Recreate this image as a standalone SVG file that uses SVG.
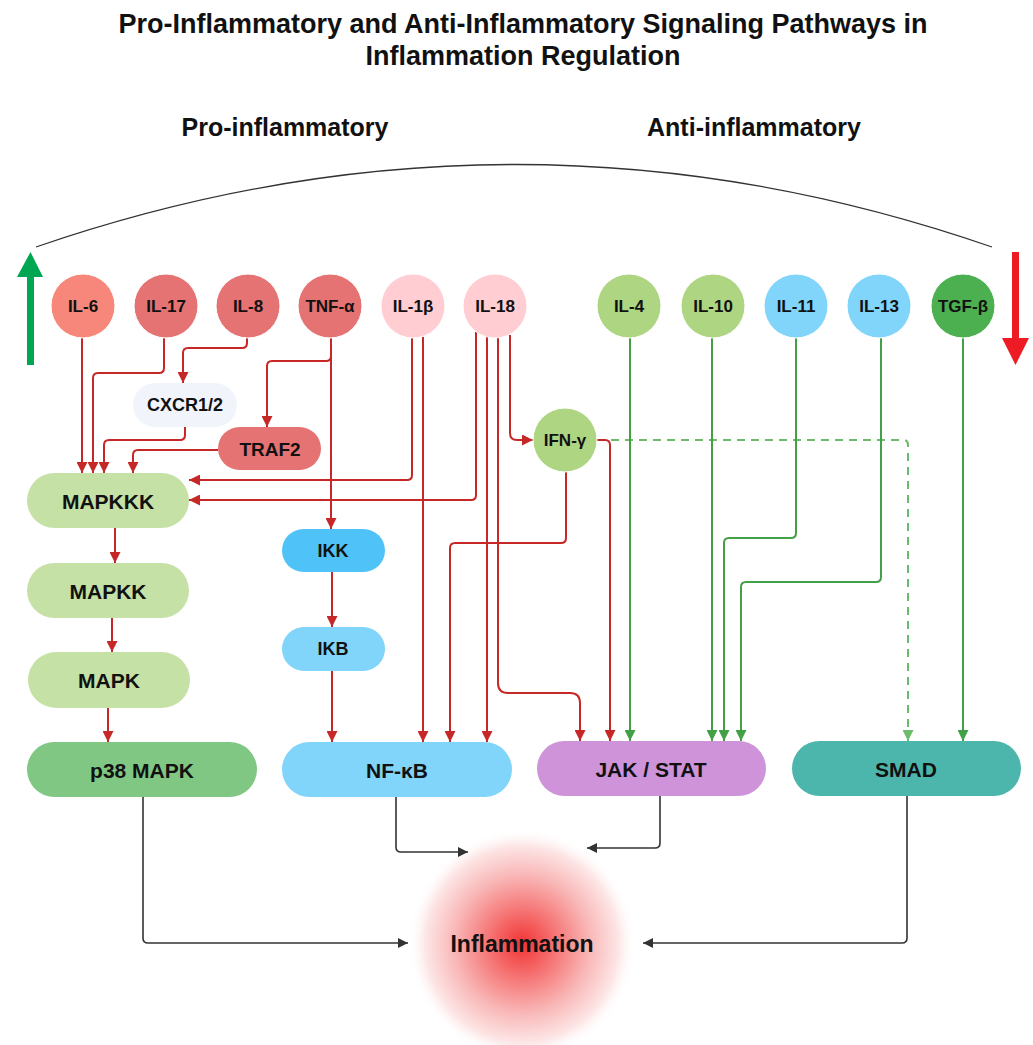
<svg xmlns="http://www.w3.org/2000/svg" width="1033" height="1045" viewBox="0 0 1033 1045">
<style>
text{font-family:"Liberation Sans",Arial,sans-serif;font-weight:bold;fill:#111}
.n{text-anchor:middle;dominant-baseline:central}
.c{stroke:#fff;stroke-width:1}
.r{fill:none;stroke:#C62828;stroke-width:2;marker-end:url(#ar)}
.g{fill:none;stroke:#43A047;stroke-width:2;marker-end:url(#ag)}
.d{fill:none;stroke:#6DBB6D;stroke-width:2;stroke-dasharray:8 6;marker-end:url(#ad)}
.k{fill:none;stroke:#333;stroke-width:1.6;marker-end:url(#ak)}
</style>
<defs>
<marker id="ar" viewBox="0 0 10 10" refX="10" refY="5" markerWidth="11" markerHeight="11" markerUnits="userSpaceOnUse" orient="auto"><path d="M0,0L10,5L0,10z" fill="#C62828"/></marker>
<marker id="ag" viewBox="0 0 10 10" refX="10" refY="5" markerWidth="11" markerHeight="11" markerUnits="userSpaceOnUse" orient="auto"><path d="M0,0L10,5L0,10z" fill="#43A047"/></marker>
<marker id="ad" viewBox="0 0 10 10" refX="10" refY="5" markerWidth="11" markerHeight="11" markerUnits="userSpaceOnUse" orient="auto"><path d="M0,0L10,5L0,10z" fill="#6DBB6D"/></marker>
<marker id="ak" viewBox="0 0 10 10" refX="10" refY="5" markerWidth="10" markerHeight="10" markerUnits="userSpaceOnUse" orient="auto"><path d="M0,0L10,5L0,10z" fill="#333"/></marker>
<radialGradient id="glow" cx="0.5" cy="0.5" r="0.5">
<stop offset="0" stop-color="#F23333"/>
<stop offset="0.25" stop-color="#F56B6B"/>
<stop offset="0.6" stop-color="#F9B8B8"/>
<stop offset="0.85" stop-color="#FDE6E6"/>
<stop offset="1" stop-color="#FFFFFF" stop-opacity="0"/>
</radialGradient>
</defs>
<rect width="1033" height="1045" fill="#fff"/>

<g id="title">
<text x="523" y="33" font-size="27" text-anchor="middle">Pro-Inflammatory and Anti-Inflammatory Signaling Pathways in</text>
<text x="523" y="65" font-size="27" text-anchor="middle">Inflammation Regulation</text>
</g>
<g id="headings">
<text x="285" y="136" font-size="25" text-anchor="middle">Pro-inflammatory</text>
<text x="754" y="136" font-size="25" text-anchor="middle">Anti-inflammatory</text>
</g>
<path id="arc" d="M36,247 Q516,82 992,247" fill="none" stroke="#333" stroke-width="1.3"/>
<polygon id="up-arrow" points="27,365 34,365 34,277 43,277 30.5,252 17,277 27,277" fill="#00A651"/>
<polygon id="down-arrow" points="1012,252 1019,252 1019,338 1029,338 1015.5,365 1002,338 1012,338" fill="#ED1C24"/>

<g id="inflammation">
<ellipse cx="522" cy="944" rx="114" ry="116" fill="url(#glow)"/>
<text class="n" x="522" y="944" font-size="23">Inflammation</text>
</g>

<g id="connectors">
<path class="r" d="M82,338 V473"/>
<path class="r" d="M164,338 V368 Q164,373 159,373 H98 Q93,373 93,378 V473"/>
<path class="r" d="M247,337 V343 Q247,348 242,348 H188 Q183,348 183,353 V383"/>
<path class="r" d="M185,427 V435 Q185,440 180,440 H109 Q104,440 104,445 V473"/>
<path class="r" d="M218,450 H138 Q133,450 133,455 V473"/>
<path class="r" d="M331,338 V529"/>
<path class="r" d="M331,338 V356 Q331,361 326,361 H272 Q267,361 267,366 V427"/>
<path class="r" d="M412,338 V475 Q412,480 407,480 H189"/>
<path class="r" d="M423,337 V742"/>
<path class="r" d="M476,332 V495 Q476,500 471,500 H189"/>
<path class="r" d="M487,336 V742"/>
<path class="r" d="M498,337 V683 Q498,693 508,693 H570 Q580,693 580,703 V741"/>
<path class="r" d="M510,335 V433 Q510,440 517,440 H533"/>
<path class="r" d="M566,472 V538 Q566,543 561,543 H455 Q450,543 450,548 V742"/>
<path class="d" d="M597,440 H903 Q908,440 908,445 V741"/>
<path class="r" d="M597,440 H605 Q610,440 610,445 V741"/>
<path class="g" d="M630,338 V741"/>
<path class="g" d="M712,338 V741"/>
<path class="g" d="M796,338 V533 Q796,538 791,538 H729 Q724,538 724,543 V741"/>
<path class="g" d="M881,338 V577 Q881,582 876,582 H746 Q741,582 741,587 V741"/>
<path class="g" d="M963,338 V741"/>
<path class="r" d="M115,528 V563"/>
<path class="r" d="M112,618 V652"/>
<path class="r" d="M108,708 V742"/>
<path class="r" d="M332,572 V627"/>
<path class="r" d="M332,671 V742"/>
<path class="k" d="M143,797 V938 Q143,943 148,943 H408"/>
<path class="k" d="M396,797 V847 Q396,852 401,852 H468"/>
<path class="k" d="M660,796 V843 Q660,848 655,848 H587"/>
<path class="k" d="M907,796 V938 Q907,943 902,943 H643"/>
</g>

<g id="IL-6"><circle class="c" cx="83" cy="306" r="32" fill="#F6877A"/><text class="n" x="83" y="306" font-size="17">IL-6</text></g>
<g id="IL-17"><circle class="c" cx="166" cy="306" r="32" fill="#E57373"/><text class="n" x="166" y="306" font-size="17">IL-17</text></g>
<g id="IL-8"><circle class="c" cx="248" cy="306" r="32" fill="#E57373"/><text class="n" x="248" y="306" font-size="17">IL-8</text></g>
<g id="TNF-a"><circle class="c" cx="330" cy="306" r="32" fill="#E57373"/><text class="n" x="330" y="306" font-size="17">TNF-α</text></g>
<g id="IL-1b"><circle class="c" cx="413" cy="306" r="32" fill="#FFCDD2"/><text class="n" x="413" y="306" font-size="17">IL-1β</text></g>
<g id="IL-18"><circle class="c" cx="495" cy="306" r="32" fill="#FFCDD2"/><text class="n" x="495" y="306" font-size="17">IL-18</text></g>
<g id="IL-4"><circle class="c" cx="629" cy="306" r="32" fill="#AED581"/><text class="n" x="629" y="306" font-size="17">IL-4</text></g>
<g id="IL-10"><circle class="c" cx="713" cy="306" r="32" fill="#AED581"/><text class="n" x="713" y="306" font-size="17">IL-10</text></g>
<g id="IL-11"><circle class="c" cx="796" cy="306" r="32" fill="#81D4FA"/><text class="n" x="796" y="306" font-size="17">IL-11</text></g>
<g id="IL-13"><circle class="c" cx="879" cy="306" r="32" fill="#81D4FA"/><text class="n" x="879" y="306" font-size="17">IL-13</text></g>
<g id="TGF-b"><circle class="c" cx="963" cy="306" r="32" fill="#4CAF50"/><text class="n" x="963" y="306" font-size="17">TGF-β</text></g>
<g id="IFN-g"><circle class="c" cx="565" cy="440" r="32" fill="#AED581"/><text class="n" x="565" y="440" font-size="17">IFN-γ</text></g>

<g id="CXCR1-2"><rect x="133" y="383" width="104" height="44" rx="22" fill="#F1F5FB"/><text class="n" x="185" y="405" font-size="18">CXCR1/2</text></g>
<g id="TRAF2"><rect x="218" y="427" width="103" height="43" rx="21.5" fill="#E57373"/><text class="n" x="270" y="449" font-size="19">TRAF2</text></g>
<g id="MAPKKK"><rect x="27" y="473" width="162" height="55" rx="27.5" fill="#C5E1A5"/><text class="n" x="108" y="501" font-size="21">MAPKKK</text></g>
<g id="MAPKK"><rect x="27" y="563" width="162" height="55" rx="27.5" fill="#C5E1A5"/><text class="n" x="108" y="591" font-size="21">MAPKK</text></g>
<g id="MAPK"><rect x="28" y="652" width="162" height="56" rx="28" fill="#C5E1A5"/><text class="n" x="109" y="680" font-size="21">MAPK</text></g>
<g id="p38-MAPK"><rect x="27" y="742" width="230" height="55" rx="27.5" fill="#81C784"/><text class="n" x="142" y="770" font-size="21">p38 MAPK</text></g>
<g id="IKK"><rect x="282" y="529" width="103" height="43" rx="21.5" fill="#4FC3F7"/><text class="n" x="333" y="551" font-size="18">IKK</text></g>
<g id="IKB"><rect x="282" y="627" width="103" height="44" rx="22" fill="#81D4FA"/><text class="n" x="333" y="649" font-size="18">IKB</text></g>
<g id="NF-kB"><rect x="282" y="742" width="230" height="55" rx="27.5" fill="#81D4FA"/><text class="n" x="397" y="770" font-size="21">NF-κB</text></g>
<g id="JAK-STAT"><rect x="537" y="741" width="229" height="55" rx="27.5" fill="#CE93D8"/><text class="n" x="651" y="769" font-size="21">JAK / STAT</text></g>
<g id="SMAD"><rect x="792" y="741" width="229" height="55" rx="27.5" fill="#4DB6AC"/><text class="n" x="906" y="769" font-size="21">SMAD</text></g>
</svg>
